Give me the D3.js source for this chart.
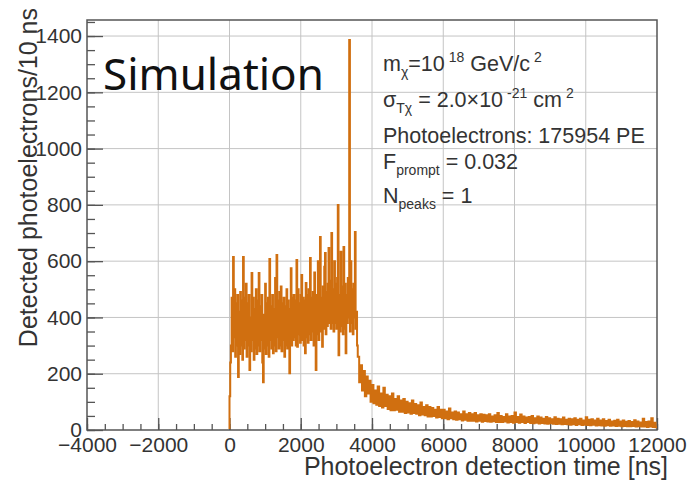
<!DOCTYPE html>
<html>
<head>
<meta charset="utf-8">
<script src="https://cdn.jsdelivr.net/npm/d3@7"></script>
<style>
body{margin:0;background:#fff;}
svg{display:block;}
.axis text{font-family:"Liberation Sans",Arial,sans-serif;font-size:21px;fill:#333;}
.axis line{stroke:#555;stroke-width:1.3;}
.axis path{display:none;}
.grid line{stroke:#c4c4c4;stroke-width:1;}
.label{font-family:"Liberation Sans",Arial,sans-serif;fill:#333;}
</style>
</head>
<body>
<script>
// prompt part: 20 ns bins from 0 to 3600 ns
let mainStart = 0;
let mainWidth = 20;
let mainCounts = [
  120,240,300,470,280,615,330,500,260,450,
  300,480,188,420,270,490,300,460,250,615,
  290,470,320,520,260,450,300,480,213,400,
  280,558,320,470,250,430,290,500,270,460,
  300,558,280,440,320,480,240,170,410,290,
  520,270,450,300,470,260,608,320,440,290,
  480,273,430,300,540,280,622,330,460,290,
  490,300,510,280,450,320,470,260,440,300,
  500,290,460,320,202,430,575,300,470,320,
  480,330,460,300,604,296,500,340,450,310,
  480,551,320,470,300,460,273,522,330,480,
  310,500,340,611,320,470,350,490,300,560,
  330,213,480,340,600,320,500,686,350,470,
  296,510,360,580,629,340,490,370,520,647,
  380,530,360,700,380,500,350,600,380,520,
  360,540,800,266,480,350,633,370,510,340,
  650,360,520,273,480,380,540,400,1386,350,
  600,380,500,340,520,400,704,360,420,300
];
// delayed tail: 40 ns bins from 3600 to 12000 ns
let tailStart = 3600;
let tailWidth = 40;
let tailCounts = [
  260,170,230,140,210,120,190,130,175,100,
  160,95,140,90,155,85,130,80,150,85,
  125,75,120,70,130,70,110,72,120,65,
  105,65,110,60,100,62,95,58,105,60,
  92,58,88,52,98,55,82,52,88,48,
  82,48,78,50,72,44,82,46,72,42,
  72,42,66,38,76,42,62,38,66,36,
  62,38,56,34,66,36,56,33,60,33,
  56,33,60,30,52,33,56,29,54,32,
  52,30,56,29,48,31,52,28,60,28,
  50,28,46,30,56,27,48,28,50,26,
  62,28,46,26,55,28,48,25,44,28,
  46,25,50,24,42,26,48,23,44,25,
  40,23,46,22,42,24,38,22,45,21,
  40,22,38,20,44,21,36,20,40,19,
  38,20,42,18,36,20,40,18,34,19,
  45,18,36,17,38,19,34,16,40,17,
  34,16,38,15,32,17,36,15,30,16,
  33,14,36,15,30,13,34,14,29,13,
  32,13,28,14,35,12,30,13,27,12,
  40,12,28,11,30,12,42,11,26,10
];

let xDomain = [-4000,12000];
let yDomain = [0,1457];
let xTicks = [-4000,-2000,0,2000,4000,6000,8000,10000,12000];
let yTicks = [0,200,400,600,800,1000,1200,1400];

let xTitle = "Photoelectron detection time [ns]";
let yTitle = "Detected photoelectrons/10 ns";
let stamp = "Simulation";

// info box, [text, kind] pieces per line
let info = [
  [["m","n"],["χ","sub"],["=10","n"],["18","sup"],[" GeV/c","n"],["2","sup"]],
  [["σ","n"],["Tχ","sub"],[" = 2.0×10","n"],["-21","sup"],[" cm","n"],["2","sup"]],
  [["Photoelectrons: 175954 PE","n"]],
  [["F","n"],["prompt","sub"],[" = 0.032","n"]],
  [["N","n"],["peaks","sub"],[" = 1","n"]]
];
let infoBase = [71,107,143,169,203];

let margin = {left:87,top:20,right:35,bottom:53};
let width = 692-margin.left-margin.right;
let height = 483-margin.top-margin.bottom;

let svg = d3.select("body").append("svg").attr("width",692).attr("height",483);

let x = d3.scaleLinear().domain(xDomain).range([0,width]);
let y = d3.scaleLinear().domain(yDomain).range([height,0]);

let g = svg.append("g").attr("transform","translate("+margin.left+","+margin.top+")");

// grid
g.append("g").attr("class","grid")
  .selectAll("line.v").data(xTicks.filter(d=>d>xDomain[0]&&d<xDomain[1]))
  .enter().append("line")
  .attr("x1",d=>x(d)).attr("x2",d=>x(d)).attr("y1",0).attr("y2",height);
g.append("g").attr("class","grid")
  .selectAll("line.h").data(yTicks.filter(d=>d>0))
  .enter().append("line")
  .attr("y1",d=>y(d)).attr("y2",d=>y(d)).attr("x1",0).attr("x2",width);

// axes: minor ticks, then major ticks with labels
let fmt = d3.format("d");
g.append("g").attr("class","axis")
  .call(d3.axisLeft(y).tickValues(d3.range(0,1451,50)).tickSize(-8).tickFormat(""));
g.append("g").attr("class","axis")
  .call(d3.axisLeft(y).tickValues(yTicks).tickSize(-16).tickPadding(5).tickSizeOuter(0).tickFormat(fmt));

g.append("g").attr("class","axis").attr("transform","translate(0,"+height+")")
  .call(d3.axisBottom(x).tickValues(d3.range(-4000,12001,500)).tickSize(-6).tickFormat(""));
g.append("g").attr("class","axis").attr("transform","translate(0,"+height+")")
  .call(d3.axisBottom(x).tickValues(xTicks).tickSize(-12).tickPadding(7).tickSizeOuter(0).tickFormat(fmt));

// frame
g.append("rect")
  .attr("width",width).attr("height",height)
  .attr("fill","none").attr("stroke","#555").attr("stroke-width",1.5);

// histogram as a step line
let pts = [{t:xDomain[0],v:0}];
mainCounts.forEach((c,i)=>pts.push({t:mainStart+i*mainWidth,v:c}));
tailCounts.forEach((c,i)=>pts.push({t:tailStart+i*tailWidth,v:c}));
pts.push({t:tailStart+tailCounts.length*tailWidth,v:tailCounts[tailCounts.length-1]});

let line = d3.line()
  .x(d=>x(d.t))
  .y(d=>y(d.v))
  .curve(d3.curveStepAfter);

svg.append("clipPath").attr("id","clip")
  .append("rect").attr("x",0).attr("y",-2).attr("width",width).attr("height",height+1);

g.append("path")
  .attr("clip-path","url(#clip)")
  .attr("fill","none")
  .attr("stroke","#d06f10")
  .attr("stroke-width",2)
  .attr("d",line(pts));

// titles
svg.append("text").attr("class","label")
  .attr("x",668).attr("y",475)
  .attr("text-anchor","end")
  .style("font-size","25px")
  .text(xTitle);

svg.append("text").attr("class","label")
  .attr("transform","translate(37,8) rotate(-90)")
  .attr("text-anchor","end")
  .style("font-size","25px")
  .text(yTitle);

svg.append("text")
  .attr("x",103).attr("y",90)
  .style("font-family","'Noto Sans',sans-serif")
  .style("font-size","44px")
  .attr("fill","#111")
  .text(stamp);

// info text with sub/superscripts
let shift = {n:0,sub:6,sup:-9};
let info_g = svg.append("g");
info.forEach((row,i)=>{
  let t = info_g.append("text").attr("class","label")
    .attr("x",383).attr("y",infoBase[i])
    .style("font-size","21.5px");
  let cur = 0;
  row.forEach(([s,k])=>{
    let ts = t.append("tspan")
      .attr("dy",shift[k]-cur)
      .style("font-size",k=="n"?"21.5px":"14px")
      .text(s);
    if(k=="sup") ts.attr("dx",4);
    cur = shift[k];
  });
});
</script>
</body>
</html>
